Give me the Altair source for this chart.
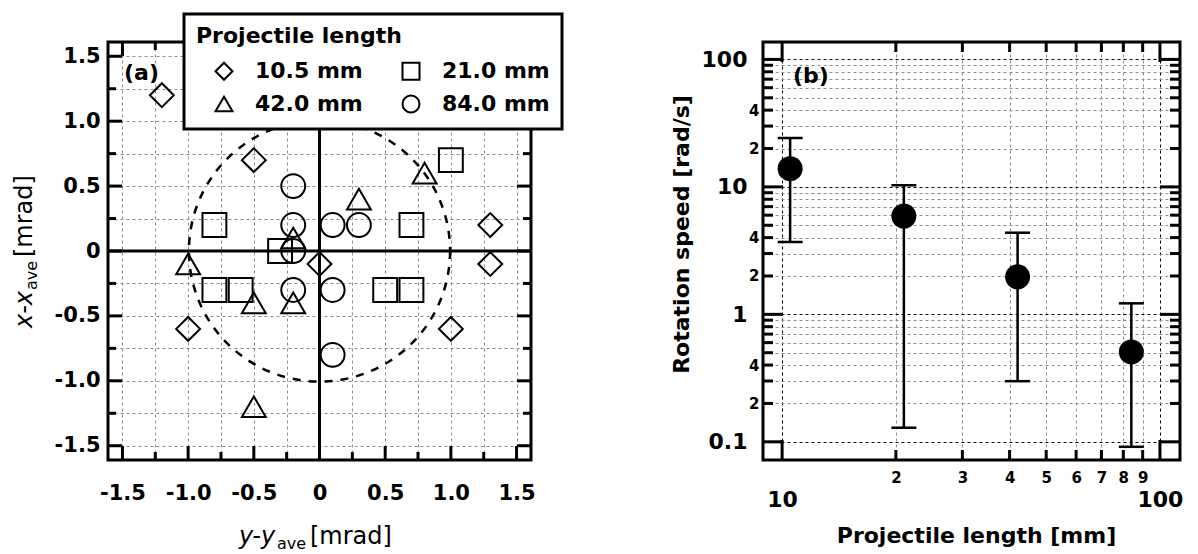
import math
import altair as alt
import pandas as pd

# ---------------- data: panel (a) ----------------
length_labels = ['10.5 mm', '21.0 mm', '42.0 mm', '84.0 mm']
marker_shapes = ['diamond', 'square', 'triangle-up', 'circle']

dy_105 = [-1.2, -0.5, 1.3, 0.0, 1.3, -1.0, 1.0]
dx_105 = [1.2, 0.7, 0.2, -0.1, -0.1, -0.6, -0.6]
dy_210 = [1.0, -0.8, 0.7, -0.3, -0.8, -0.6, 0.5, 0.7]
dx_210 = [0.7, 0.2, 0.2, 0.0, -0.3, -0.3, -0.3, -0.3]
dy_420 = [0.8, 0.3, -0.2, -1.0, -0.5, -0.2, -0.5]
dx_420 = [0.6, 0.4, 0.1, -0.1, -0.4, -0.4, -1.2]
dy_840 = [-0.2, -0.2, 0.1, 0.3, -0.2, -0.2, 0.1, 0.1]
dx_840 = [0.5, 0.2, 0.2, 0.2, 0.0, -0.3, -0.3, -0.8]
circle_center = [0.0]
circle_radius = 1.0

a_major = [-1.5, -1.0, -0.5, 0.0, 0.5, 1.0, 1.5]
a_minor = [-1.25, -0.75, -0.25, 0.25, 0.75, 1.25]

# ---------------- data: panel (b) ----------------
b_length = [10.5, 21.0, 42.0, 84.0]
b_speed = [13.9, 5.9, 1.97, 0.507]
b_upper = [24.2, 10.3, 4.37, 1.22]
b_lower = [3.7, 0.129, 0.299, 0.0914]

bx_major = [10, 100]
bx_minor = [20, 30, 40, 50, 60, 70, 80, 90]
by_major = [0.1, 1, 10, 100]
by_minor = [0.2, 0.3, 0.4, 0.5, 0.6, 0.7, 0.8, 0.9,
            2, 3, 4, 5, 6, 7, 8, 9,
            20, 30, 40, 50, 60, 70, 80, 90]

# ---------------- layout constants ----------------
AW, AH = 423, 418
BW, BH = 417, 418
A_DOMAIN = [-1.61, 1.61]
BX_DOMAIN = [8.9, 113]
BY_DOMAIN = [0.072, 137]
FONT = 'DejaVu Sans'
GRID_GRAY = '#8c8c8c'

xs_a = alt.Scale(domain=A_DOMAIN, nice=False, zero=False)
ys_a = alt.Scale(domain=A_DOMAIN, nice=False, zero=False)
xs_b = alt.Scale(type='log', domain=BX_DOMAIN, nice=False)
ys_b = alt.Scale(type='log', domain=BY_DOMAIN, nice=False)

one = pd.DataFrame({'k': [0]})


def txt(text, x, y, size, weight='normal', style='normal', align='left',
        baseline='alphabetic', angle=0):
    return alt.Chart(one).mark_text(
        text=text, fontSize=size, fontWeight=weight, fontStyle=style,
        align=align, baseline=baseline, angle=angle, font=FONT, color='black'
    ).encode(x=alt.value(x), y=alt.value(y))


# ---------------- axes ----------------
a_grid = sorted(a_major + a_minor)
a_label_expr = ("abs(datum.value % 0.5) > 0.01 ? '' : (datum.value == 0 ? '0' : "
                "(datum.value < 0 ? '-' : '') + format(abs(datum.value), '.1f'))")


def a_axis(pad):
    return alt.Axis(values=a_grid, title=None, grid=True, gridColor=GRID_GRAY,
                    gridDash=[3, 3], gridWidth=1, labelExpr=a_label_expr,
                    labelFontSize=21, labelPadding=pad, labelFlush=False,
                    labelOverlap=False)


LEAD = "round(datum.value / pow(10, floor(log(datum.value) / LN10 + 1e-6)))"
MAJOR = f"{LEAD} == 1"
bx_label_expr = f"{MAJOR} ? format(datum.value, '~g') : '' + {LEAD}"
by_label_expr = f"{MAJOR} ? format(datum.value, '~g') : (({LEAD} == 2 || {LEAD} == 4) ? '' + {LEAD} : '')"
grid_color_b = {'condition': {'test': MAJOR, 'value': 'black'}, 'value': GRID_GRAY}

AX_B_X = alt.Axis(
    values=sorted(bx_major + bx_minor), title='Projectile length [mm]',
    titleFontSize=22, titleFontWeight='bold', titleFont=FONT, titleColor='black',
    titleX=213, titleY=75, titleAlign='center', titleBaseline='middle',
    grid=True, gridDash=[3, 3], gridWidth=1, gridColor=grid_color_b,
    labelExpr=bx_label_expr,
    labelFontSize={'condition': {'test': MAJOR, 'value': 22}, 'value': 15},
    labelPadding={'condition': {'test': MAJOR, 'value': 29}, 'value': 10},
    labelFlush=False, labelOverlap=False)
AX_B_Y = alt.Axis(
    values=sorted(by_major + by_minor), title='Rotation speed [rad/s]',
    titleFontSize=22, titleFontWeight='bold', titleFont=FONT, titleColor='black',
    titleX=-82, titleY=192, titleAngle=270, titleAlign='center', titleBaseline='middle',
    grid=True, gridDash=[3, 3], gridWidth=1, gridColor=grid_color_b,
    labelExpr=by_label_expr,
    labelFontSize={'condition': {'test': MAJOR, 'value': 22}, 'value': 15},
    labelPadding={'condition': {'test': MAJOR, 'value': 16}, 'value': 4},
    labelFlush=False, labelOverlap=False)


# ---------------- inward frame ticks ----------------
def step_lin(dom, px, length):
    return length * (dom[1] - dom[0]) / px


def step_log(dom, px, length):
    return 10 ** (length * math.log10(dom[1] / dom[0]) / px)


def tick_segments(xvals_major, xvals_minor, yvals_major, yvals_minor, xdom, ydom,
                  W, H, len_major, len_minor, log):
    """One table of tick segments (start/end in data units) for all four frame sides."""
    rows = []
    for vals, L in ((xvals_major, len_major), (xvals_minor, len_minor)):
        if log:
            f = step_log(ydom, H, L)
            b_in, t_in = ydom[0] * f, ydom[1] / f
        else:
            s = step_lin(ydom, H, L)
            b_in, t_in = ydom[0] + s, ydom[1] - s
        for v in vals:
            rows.append({'sx': v, 'sx2': v, 'sy': ydom[0], 'sy2': b_in})
            rows.append({'sx': v, 'sx2': v, 'sy': ydom[1], 'sy2': t_in})
    for vals, L in ((yvals_major, len_major), (yvals_minor, len_minor)):
        if log:
            f = step_log(xdom, W, L)
            l_in, r_in = xdom[0] * f, xdom[1] / f
        else:
            s = step_lin(xdom, W, L)
            l_in, r_in = xdom[0] + s, xdom[1] - s
        for v in vals:
            rows.append({'sx': xdom[0], 'sx2': l_in, 'sy': v, 'sy2': v})
            rows.append({'sx': xdom[1], 'sx2': r_in, 'sy': v, 'sy2': v})
    return pd.DataFrame(rows)


def ticks_layer(df, xscale, yscale, xaxis, yaxis):
    return alt.Chart(df).mark_rule(color='black', strokeWidth=3, opacity=1).encode(
        x=alt.X('sx:Q', scale=xscale, axis=xaxis), x2='sx2:Q',
        y=alt.Y('sy:Q', scale=yscale, axis=yaxis), y2='sy2:Q')


# ================= panel (a) =================
rows = []
for lab, dys, dxs in zip(length_labels, [dy_105, dy_210, dy_420, dy_840],
                         [dx_105, dx_210, dx_420, dx_840]):
    for a, b in zip(dys, dxs):
        rows.append({'dy': a, 'dx': b, 'len': lab})
df_a = pd.DataFrame(rows)

AX_A_X = a_axis(22)
AX_A_Y = a_axis(8)

points_a = alt.Chart(df_a).mark_point(filled=False, strokeWidth=2, color='black',
                                      opacity=1, size=570).encode(
    x=alt.X('dy:Q', scale=xs_a, axis=AX_A_X),
    y=alt.Y('dx:Q', scale=ys_a, axis=AX_A_Y),
    shape=alt.Shape('len:N', scale=alt.Scale(domain=length_labels, range=marker_shapes),
                    legend=alt.Legend(
                        title='Projectile length', orient='none', legendX=76, legendY=-28,
                        columns=2, direction='horizontal', padding=12,
                        fillColor='white', strokeColor='black',
                        titleFontSize=22, titleFontWeight='bold', titleFont=FONT,
                        titleColor='black', titlePadding=12, titleLimit=500,
                        labelFontSize=22, labelFontWeight='bold', labelFont=FONT,
                        labelColor='black', labelOffset=20, labelLimit=300,
                        symbolSize=289, symbolStrokeWidth=2, symbolStrokeColor='black',
                        symbolOffset=17, columnPadding=20, rowPadding=7)),
)

zero_df = pd.DataFrame({'zv': [0.0]})
zero_x = alt.Chart(zero_df).mark_rule(color='black', strokeWidth=3).encode(
    x=alt.X('zv:Q', scale=xs_a, axis=AX_A_X))
zero_y = alt.Chart(zero_df).mark_rule(color='black', strokeWidth=3).encode(
    y=alt.Y('zv:Q', scale=ys_a, axis=AX_A_Y))

px_per_mrad = 0.5 * (AW + AH) / (A_DOMAIN[1] - A_DOMAIN[0])
circle_size = (2 * circle_radius * px_per_mrad) ** 2
circ_df = pd.DataFrame({'cx': circle_center, 'cy': circle_center})
dashed_circle = alt.Chart(circ_df).mark_point(
    shape='circle', filled=False, color='black', strokeWidth=2.5,
    strokeDash=[8, 8], size=circle_size, opacity=1
).encode(x=alt.X('cx:Q', scale=xs_a, axis=AX_A_X), y=alt.Y('cy:Q', scale=ys_a, axis=AX_A_Y))

ticks_a = ticks_layer(tick_segments(a_major, a_minor, a_major, a_minor, A_DOMAIN, A_DOMAIN,
                                    AW, AH, 14, 8, log=False), xs_a, ys_a, AX_A_X, AX_A_Y)

a_layers = [ticks_a, zero_x, zero_y, dashed_circle, points_a,
            txt('(a)', 16, 38, 22, weight='bold'),
            # x-axis title: y-y_ave [mrad]
            txt('y-y', 131, 502, 24, style='italic'),
            txt('ave', 169, 507, 16),
            txt('[mrad]', 202, 502, 24),
            # y-axis title: x-x_ave [mrad] (rotated)
            txt('x-x', -76, 286, 24, style='italic', angle=270),
            txt('ave', -71, 248, 16, angle=270),
            txt('[mrad]', -76, 215, 24, angle=270)]
panel_a = alt.layer(*a_layers).properties(width=AW, height=AH)

# ================= panel (b) =================
df_b = pd.DataFrame({'length': b_length, 'speed': b_speed, 'upper': b_upper, 'lower': b_lower})

ticks_b = ticks_layer(tick_segments(bx_major, bx_minor, by_major, by_minor, BX_DOMAIN, BY_DOMAIN,
                                    BW, BH, 20, 10, log=True), xs_b, ys_b, AX_B_X, AX_B_Y)
points_b = alt.Chart(df_b).mark_circle(color='black', size=625, opacity=1).encode(
    x=alt.X('length:Q', scale=xs_b, axis=AX_B_X),
    y=alt.Y('speed:Q', scale=ys_b, axis=AX_B_Y))
err_b = alt.Chart(df_b).mark_rule(color='black', strokeWidth=2.5).encode(
    x=alt.X('length:Q', scale=xs_b, axis=AX_B_X),
    y=alt.Y('lower:Q', scale=ys_b, axis=AX_B_Y), y2='upper:Q')
cap_hi = alt.Chart(df_b).mark_tick(orient='horizontal', color='black', size=25,
                                   thickness=2.5, opacity=1).encode(
    x=alt.X('length:Q', scale=xs_b, axis=AX_B_X), y=alt.Y('upper:Q', scale=ys_b, axis=AX_B_Y))
cap_lo = alt.Chart(df_b).mark_tick(orient='horizontal', color='black', size=25,
                                   thickness=2.5, opacity=1).encode(
    x=alt.X('length:Q', scale=xs_b, axis=AX_B_X), y=alt.Y('lower:Q', scale=ys_b, axis=AX_B_Y))

b_layers = [ticks_b, err_b, cap_hi, cap_lo, points_b,
            txt('(b)', 30, 41, 22, weight='bold'),
            alt.Chart(one).mark_text(text='.', fontSize=10, baseline='top', opacity=0).encode(
                x=alt.value(100), y=alt.value(-29.5))]
panel_b = alt.layer(*b_layers).properties(width=BW, height=BH)

chart = alt.hconcat(panel_a, panel_b, spacing=131).properties(
    padding={'left': 3, 'top': 3, 'right': 2, 'bottom': 0}
).configure(font=FONT).configure_view(
    stroke='black', strokeWidth=3
).configure_axis(
    domain=False, ticks=False, labelColor='black', labelFontWeight='bold', labelFont=FONT
).configure_legend(strokeWidth=3)

chart.save('out.html', embed_options={'renderer': 'svg', 'actions': False})
